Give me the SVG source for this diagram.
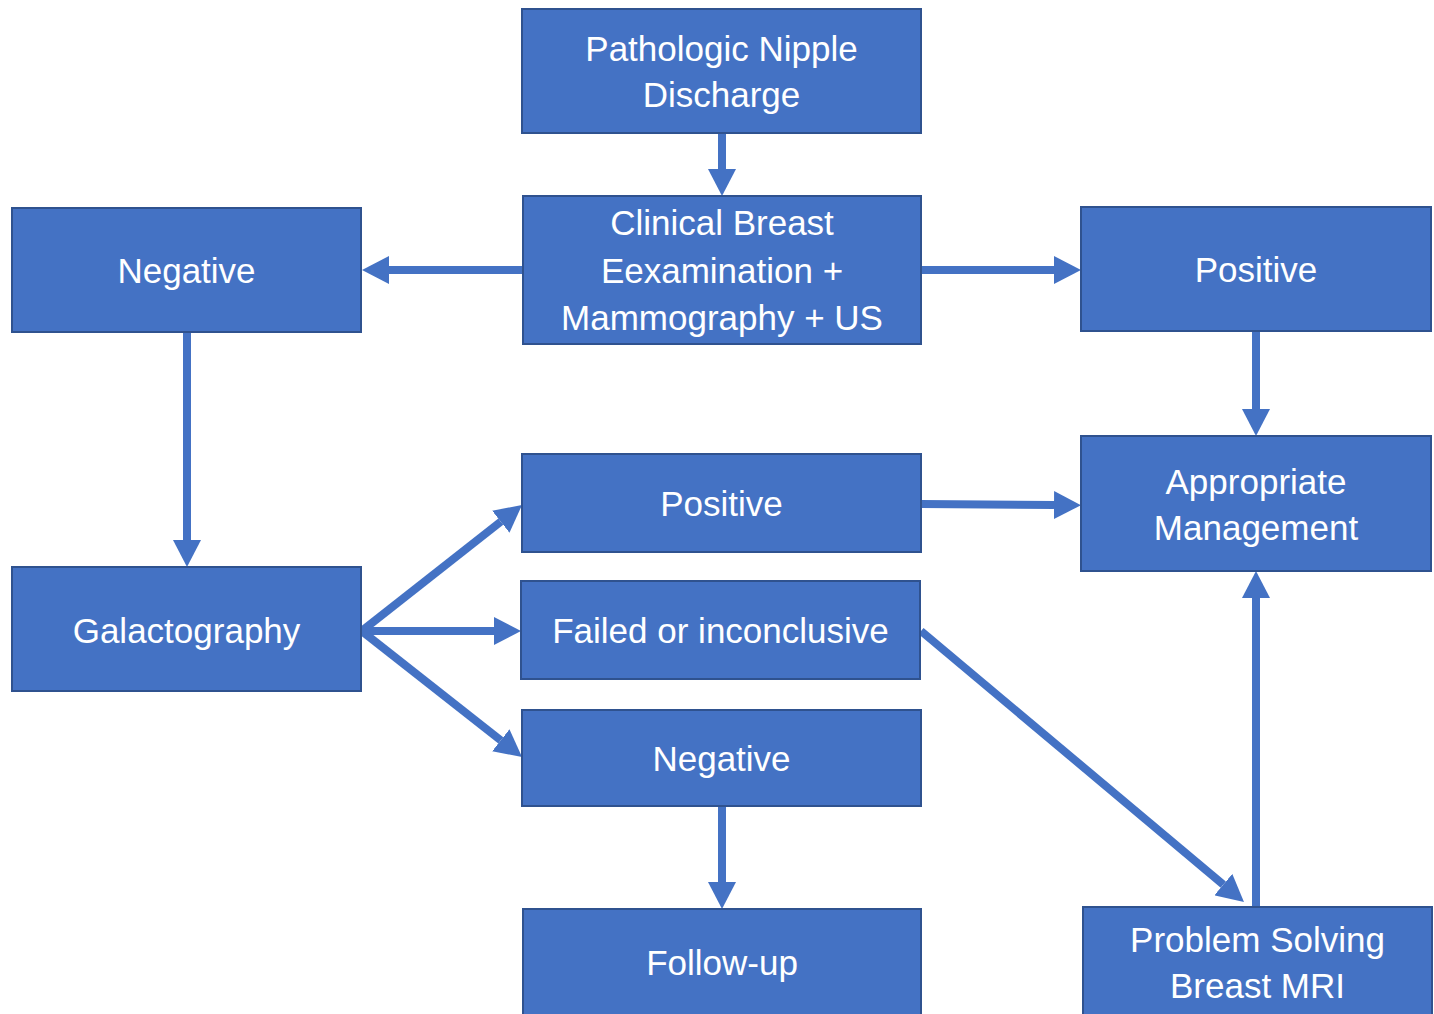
<svg xmlns="http://www.w3.org/2000/svg" width="1434" height="1014" viewBox="0 0 1434 1014">
<defs>
<style>
.box{fill:#4472C4;stroke:#2F528F;stroke-width:2}
.lbl{fill:#FFFFFF;font-family:"Liberation Sans",Arial,sans-serif;font-size:35px;text-anchor:middle}
.con{stroke:#4472C4;stroke-width:8;fill:none}
</style>
<marker id="ah" markerUnits="userSpaceOnUse" markerWidth="28" markerHeight="28" refX="0" refY="14" orient="auto" viewBox="0 0 28 28">
<path d="M0,0 L27,14 L0,28 z" fill="#4472C4"/>
</marker>
</defs>
<rect width="1434" height="1014" fill="#FFFFFF"/>
<g id="connectors">
<line class="con" x1="722" y1="133" x2="722" y2="169" marker-end="url(#ah)"/>
<line class="con" x1="523" y1="270" x2="389" y2="270" marker-end="url(#ah)"/>
<line class="con" x1="921" y1="270" x2="1054" y2="270" marker-end="url(#ah)"/>
<line class="con" x1="1256" y1="331" x2="1256" y2="409" marker-end="url(#ah)"/>
<line class="con" x1="187" y1="332" x2="187" y2="540" marker-end="url(#ah)"/>
<line class="con" x1="363" y1="630" x2="500.8" y2="521.7" marker-end="url(#ah)"/>
<line class="con" x1="361" y1="631" x2="494" y2="631" marker-end="url(#ah)"/>
<line class="con" x1="363" y1="632" x2="500.8" y2="740.3" marker-end="url(#ah)"/>
<line class="con" x1="921" y1="504" x2="1054" y2="505" marker-end="url(#ah)"/>
<line class="con" x1="921" y1="631" x2="1223.3" y2="884.6" marker-end="url(#ah)"/>
<line class="con" x1="1256" y1="907" x2="1256" y2="598" marker-end="url(#ah)"/>
<line class="con" x1="722" y1="806" x2="722" y2="882" marker-end="url(#ah)"/>
</g>
<g id="n-pathologic">
<rect class="box" x="522" y="9" width="399" height="124"/>
<text class="lbl" x="721.5" y="61">Pathologic Nipple</text>
<text class="lbl" x="721.5" y="107">Discharge</text>
</g>
<g id="n-clinical">
<rect class="box" x="523" y="196" width="398" height="148"/>
<text class="lbl" x="722" y="235">Clinical Breast</text>
<text class="lbl" x="722" y="283">Eexamination +</text>
<text class="lbl" x="722" y="330">Mammography + US</text>
</g>
<g id="n-negative-left">
<rect class="box" x="12" y="208" width="349" height="124"/>
<text class="lbl" x="186.5" y="283">Negative</text>
</g>
<g id="n-positive-right">
<rect class="box" x="1081" y="207" width="350" height="124"/>
<text class="lbl" x="1256" y="282">Positive</text>
</g>
<g id="n-appropriate">
<rect class="box" x="1081" y="436" width="350" height="135"/>
<text class="lbl" x="1256" y="494">Appropriate</text>
<text class="lbl" x="1256" y="540">Management</text>
</g>
<g id="n-positive-mid">
<rect class="box" x="522" y="454" width="399" height="98"/>
<text class="lbl" x="721.5" y="516">Positive</text>
</g>
<g id="n-galactography">
<rect class="box" x="12" y="567" width="349" height="124"/>
<text class="lbl" x="186.5" y="643">Galactography</text>
</g>
<g id="n-failed">
<rect class="box" x="521" y="581" width="399" height="98"/>
<text class="lbl" x="720.5" y="643">Failed or inconclusive</text>
</g>
<g id="n-negative-mid">
<rect class="box" x="522" y="710" width="399" height="96"/>
<text class="lbl" x="721.5" y="771">Negative</text>
</g>
<g id="n-followup">
<rect class="box" x="523" y="909" width="398" height="110"/>
<text class="lbl" x="722" y="975">Follow-up</text>
</g>
<g id="n-mri">
<rect class="box" x="1083" y="907" width="349" height="112"/>
<text class="lbl" x="1257.5" y="952">Problem Solving</text>
<text class="lbl" x="1257.5" y="998">Breast MRI</text>
</g>
</svg>
